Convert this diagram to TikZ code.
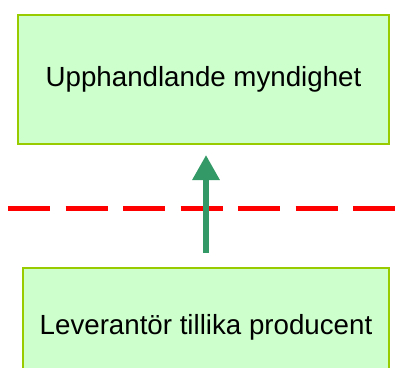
\documentclass[tikz,border=0pt]{standalone}
\usepackage{fontspec}
\setmainfont{Liberation Sans}
\usetikzlibrary{arrows.meta}
\definecolor{boxfill}{HTML}{CCFFCC}
\definecolor{boxline}{HTML}{99CC00}
\definecolor{flowgreen}{HTML}{339966}
\definecolor{borderred}{HTML}{FF0000}
\begin{document}
\begin{tikzpicture}[x=1pt,y=1pt,
  party/.style={draw=boxline, line width=2pt, fill=boxfill, inner sep=0pt},
  label/.style={font=\fontsize{27.7}{32}\selectfont},
  flow/.style={draw=flowgreen, line width=6pt,
    -{Triangle[width=26pt,length=25pt]}},
  boundary/.style={draw=borderred, line width=5pt, dash pattern=on 42pt off 15.5pt}]
  \useasboundingbox (0,0) rectangle (411,367);
  % buyer
  \node[party, label, minimum width=371pt, minimum height=129pt] (buyer) at (203.5,287.5)
    {Upphandlande myndighet};
  % supplier, running off the bottom edge
  \node[party, minimum width=366pt, minimum height=120pt, anchor=north] (supplier)
    at (206,100) {};
  \node[label] (suppliertext) at (206,40)
    {Leverantör tillika producent};
  % dashed boundary
  \coordinate (bl) at (8,159);
  \coordinate (br) at (396,159);
  \draw[boundary] (bl) -- (br);
  % flow arrow
  \coordinate (from) at (206,114);
  \coordinate (to) at (206,212);
  \draw[flow] (from) -- (to);
\end{tikzpicture}
\end{document}
